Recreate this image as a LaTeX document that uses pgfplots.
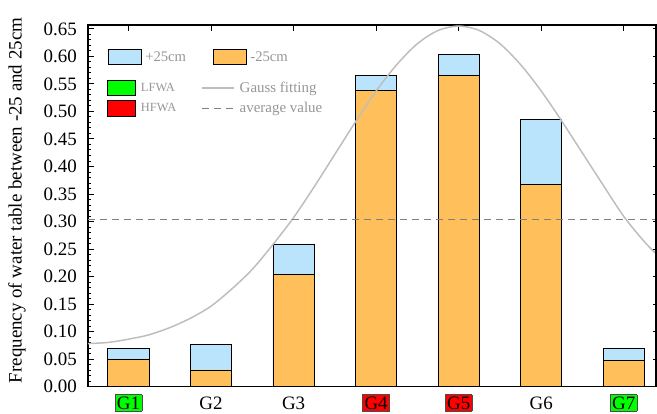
\documentclass[border=0pt]{standalone}
\usepackage{pgfplots}
\pgfplotsset{compat=1.18}
\usepackage{fontspec}
\setmainfont{Liberation Serif}
\definecolor{lblue}{RGB}{186,228,252}
\definecolor{orng}{RGB}{255,191,90}
\definecolor{gline}{RGB}{190,190,190}
\definecolor{dline}{RGB}{128,128,128}
\definecolor{legtext}{RGB}{150,150,150}
\setlength{\fboxsep}{1.6bp}
\setlength{\fboxrule}{0.5bp}
\begin{document}
\begin{tikzpicture}
\begin{axis}[name=ax, scale only axis, width=568bp, height=361.5bp,
  xmin=0.51, xmax=7.39, ymin=0, ymax=0.657,
  axis line style={line width=1.1bp},
  tick align=inside,
  major tick length=6.5bp, minor tick length=3.5bp,
  tick style={black, line width=0.8bp},
  xtick={1,2,3,4,5,6,7},
  xtick pos=right, xticklabel pos=left,
  xticklabels={{\fcolorbox{black!70}{green}{G1}},G2,G3,{\fcolorbox{black!70}{red}{G4}},{\fcolorbox{black!70}{red}{G5}},G6,{\fcolorbox{black!70}{green}{G7}}},
  xticklabel style={anchor=base, yshift=-22.5bp, inner sep=0pt, font=\fontsize{19}{22}\selectfont},
  ytick={0,0.05,0.10,0.15,0.20,0.25,0.30,0.35,0.40,0.45,0.50,0.55,0.60,0.65},
  ytick pos=left, minor y tick num=4,
  yticklabel style={/pgf/number format/fixed, /pgf/number format/precision=2, /pgf/number format/fixed zerofill, inner xsep=0pt, xshift=-11bp, font=\fontsize{19}{22}\selectfont},
  /pgf/number format/assume math mode=true,
  ylabel={Frequency of water table between -25 and 25cm},
  ylabel style={at={(axis description cs:-0.125,0.5145)}, anchor=center, font=\fontsize{19}{22}\selectfont},
  legend style={at={(axis description cs:0.034,0.9115)}, anchor=west, draw=none, fill=none, inner sep=0pt,
    font=\fontsize{14.7}{17}\selectfont, text=legtext, legend columns=2,
    /tikz/every odd column/.append style={column sep=2bp},
    /tikz/every even column/.append style={column sep=24.5bp}},
  legend cell align=left,
]
% +25cm (total height) bars
\addplot[ybar, bar width=0.5, bar shift=0pt, fill=lblue, draw=black, line width=0.8bp, forget plot]
  coordinates {(1,0.069) (2,0.076) (3,0.259) (4,0.566) (5,0.603) (6,0.485) (7,0.070)};
% -25cm bars
\addplot[ybar, bar width=0.5, bar shift=0pt, fill=orng, draw=black, line width=0.8bp, forget plot]
  coordinates {(1,0.050) (2,0.030) (3,0.204) (4,0.538) (5,0.565) (6,0.368) (7,0.048)};
% Gauss fitting
\addplot[gline, line width=1.5bp, smooth, no marks, forget plot] coordinates {
 (0.50,0.078) (0.75,0.080) (1.00,0.086) (1.25,0.094) (1.50,0.107) (1.75,0.124)
 (2.00,0.146) (2.25,0.177) (2.50,0.213) (2.75,0.258) (3.00,0.307) (3.25,0.363)
 (3.50,0.422) (3.75,0.481) (4.00,0.537) (4.25,0.585) (4.50,0.623) (4.75,0.647)
 (5.00,0.655) (5.25,0.647) (5.50,0.623) (5.75,0.585) (6.00,0.537) (6.25,0.482)
 (6.50,0.424) (6.75,0.366) (7.00,0.309) (7.25,0.263) (7.40,0.240)};
% average value
\addplot[dline, line width=1.2bp, dash pattern=on 7bp off 5bp, no marks, forget plot]
  coordinates {(0.51,0.304) (7.39,0.304)};
\addlegendimage{legend image code/.code={\draw[fill=lblue, draw=black, line width=0.8bp] (0bp,-7.85bp) rectangle (33bp,7.85bp);}}
\addlegendentry{+25cm}
\addlegendimage{legend image code/.code={\draw[fill=orng, draw=black, line width=0.8bp] (0bp,-7.85bp) rectangle (33bp,7.85bp);}}
\addlegendentry{-25cm}
\end{axis}
\begin{axis}[at={(ax.south west)}, anchor=south west, scale only axis, width=568bp, height=361.5bp,
  xmin=0.51, xmax=7.39, ymin=0, ymax=0.657,
  axis y line*=right, axis x line=none,
  axis line style={line width=1.1bp},
  ytick={0,0.05,0.10,0.15,0.20,0.25,0.30,0.35,0.40,0.45,0.50,0.55,0.60,0.65},
  yticklabels={}, tick align=inside, major tick length=3bp,
  tick style={black, line width=0.8bp},
  legend style={at={(axis description cs:0.0329,0.798)}, anchor=west, draw=none, fill=none, inner sep=0pt,
    font=\fontsize{15}{17}\selectfont, text=legtext, legend columns=2, row sep=4bp,
    /tikz/every odd column/.append style={column sep=3bp},
    /tikz/every even column/.append style={column sep=23bp}},
  legend cell align=left,
]
\addlegendimage{legend image code/.code={\draw[fill=green, draw=black, line width=0.8bp] (0bp,-7.85bp) rectangle (28.3bp,7.85bp);}}
\addlegendentry{\fontsize{12.5}{15}\selectfont LFWA}
\addlegendimage{legend image code/.code={\draw[gline, line width=1.5bp] (0bp,0bp) -- (32bp,0bp);}}
\addlegendentry{Gauss fitting}
\addlegendimage{legend image code/.code={\draw[fill=red, draw=black, line width=0.8bp] (0bp,-7.85bp) rectangle (28.3bp,7.85bp);}}
\addlegendentry{\fontsize{12.5}{15}\selectfont HFWA}
\addlegendimage{legend image code/.code={\draw[dline, line width=1.2bp, dash pattern=on 7bp off 5bp] (0bp,0bp) -- (32bp,0bp);}}
\addlegendentry{average value}
\end{axis}
\pgfresetboundingbox
\path ([shift={(-88bp,-27.5bp)}]ax.south west) rectangle ([shift={(1bp,25bp)}]ax.north east);
\end{tikzpicture}
\end{document}
